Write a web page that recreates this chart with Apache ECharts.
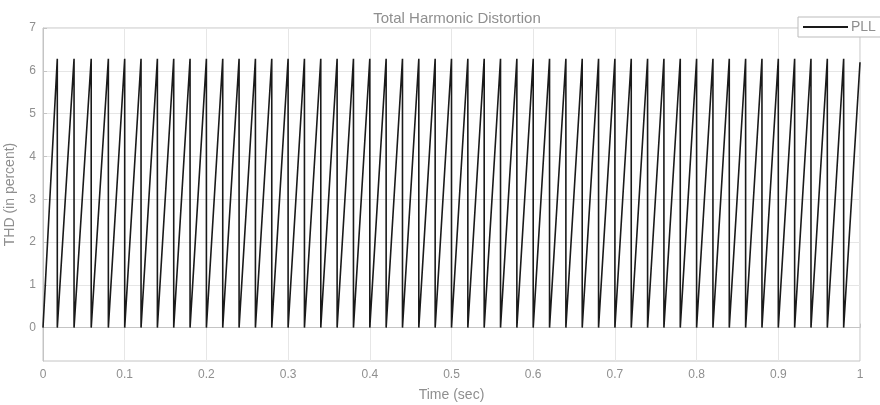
<!DOCTYPE html>
<html>
<head>
<meta charset="utf-8">
<title>Total Harmonic Distortion</title>
<script src="https://cdn.jsdelivr.net/npm/echarts@6/dist/echarts.min.js"></script>
<style>
  html, body { margin: 0; padding: 0; background: #fff; }
  #chart { width: 880px; height: 405px; }
</style>
</head>
<body>
<div id="chart"></div>
<script>
// vertices of the PLL trace (time in sec, THD value)
var timeSec = [
  0, 0.0175, 0.0175, 0.038, 0.038, 0.059, 0.059, 0.08, 0.08, 0.1, 0.1,
  0.12, 0.12, 0.14, 0.14, 0.16, 0.16, 0.18, 0.18, 0.2, 0.2,
  0.22, 0.22, 0.24, 0.24, 0.26, 0.26, 0.28, 0.28, 0.3, 0.3,
  0.32, 0.32, 0.34, 0.34, 0.36, 0.36, 0.38, 0.38, 0.4, 0.4,
  0.42, 0.42, 0.44, 0.44, 0.46, 0.46, 0.48, 0.48, 0.5, 0.5,
  0.52, 0.52, 0.54, 0.54, 0.56, 0.56, 0.58, 0.58, 0.6, 0.6,
  0.62, 0.62, 0.64, 0.64, 0.66, 0.66, 0.68, 0.68, 0.7, 0.7,
  0.72, 0.72, 0.74, 0.74, 0.76, 0.76, 0.78, 0.78, 0.8, 0.8,
  0.82, 0.82, 0.84, 0.84, 0.86, 0.86, 0.88, 0.88, 0.9, 0.9,
  0.92, 0.92, 0.94, 0.94, 0.96, 0.96, 0.98, 0.98, 1.0
]
var thdValue = [
  0, 6.28, 0, 6.28, 0, 6.28, 0, 6.28, 0, 6.28, 0,
  6.28, 0, 6.28, 0, 6.28, 0, 6.28, 0, 6.28, 0,
  6.28, 0, 6.28, 0, 6.28, 0, 6.28, 0, 6.28, 0,
  6.28, 0, 6.28, 0, 6.28, 0, 6.28, 0, 6.28, 0,
  6.28, 0, 6.28, 0, 6.28, 0, 6.28, 0, 6.28, 0,
  6.28, 0, 6.28, 0, 6.28, 0, 6.28, 0, 6.28, 0,
  6.28, 0, 6.28, 0, 6.28, 0, 6.28, 0, 6.28, 0,
  6.28, 0, 6.28, 0, 6.28, 0, 6.28, 0, 6.28, 0,
  6.28, 0, 6.28, 0, 6.28, 0, 6.28, 0, 6.28, 0,
  6.28, 0, 6.28, 0, 6.28, 0, 6.28, 0, 6.2
]
var yTicks = [0, 1, 2, 3, 4, 5, 6, 7]
var seriesName = 'PLL'

var myChart = echarts.init(document.getElementById('chart'))
var textGray = '#8f8f8f'
var gridGray = '#e6e6e6'
var font = 'Liberation Sans'

var option = {
  animation: false,
  backgroundColor: '#fff',
  title: {
    text: 'Total Harmonic Distortion',
    left: 452,
    textAlign: 'center',
    top: 6,
    textStyle: { color: textGray, fontSize: 15, fontWeight: 'normal', fontFamily: font }
  },
  legend: {
    left: 798,
    top: 17,
    data: [seriesName],
    icon: 'rect',
    itemWidth: 45,
    itemHeight: 2,
    itemGap: 4,
    padding: [3, 6, 3, 5],
    backgroundColor: '#fff',
    borderColor: '#bbbbbb',
    borderWidth: 1,
    borderRadius: 0,
    textStyle: { color: textGray, fontSize: 14, fontFamily: font, padding: [0, 0, 0, -2] }
  },
  grid: {
    left: 43,
    right: 20,
    top: 28,
    bottom: 44,
    show: true,
    borderColor: '#c4c4c4',
    borderWidth: 1,
    containLabel: false,
    outerBoundsMode: 'none'
  },
  xAxis: {
    type: 'value',
    min: 0,
    max: 1,
    interval: 0.1,
    name: 'Time (sec)',
    nameLocation: 'middle',
    nameGap: 27,
    nameTextStyle: { color: textGray, fontSize: 14, fontFamily: font },
    axisLine: { show: true, lineStyle: { color: '#c4c4c4' } },
    axisTick: { show: true, inside: true, length: 4, lineStyle: { color: '#c4c4c4' } },
    axisLabel: {
      color: textGray, fontSize: 12, margin: 8, fontFamily: font,
      formatter: function (v) { return String(Math.round(v * 10) / 10) }
    },
    splitLine: { show: true, lineStyle: { color: gridGray } }
  },
  yAxis: {
    type: 'value',
    min: -0.78,
    max: 7,
    name: 'THD (in percent)',
    nameLocation: 'middle',
    nameGap: 26,
    nameTextStyle: { color: textGray, fontSize: 14, fontFamily: font },
    axisLine: { show: true, lineStyle: { color: '#c4c4c4' } },
    axisTick: { show: true, inside: true, length: 4, lineStyle: { color: '#c4c4c4' },
      customValues: yTicks },
    axisLabel: {
      color: textGray, fontSize: 12, margin: 7, fontFamily: font,
      customValues: yTicks
    },
    splitLine: { show: true, lineStyle: { color: gridGray } }
  },
  series: [{
    name: seriesName,
    type: 'line',
    symbol: 'none',
    color: '#1a1a1a',
    lineStyle: { width: 1.6, color: '#1a1a1a' },
    data: timeSec.map(function (t, i) { return [t, thdValue[i]] })
  }]
}
myChart.setOption(option)
</script>
</body>
</html>
